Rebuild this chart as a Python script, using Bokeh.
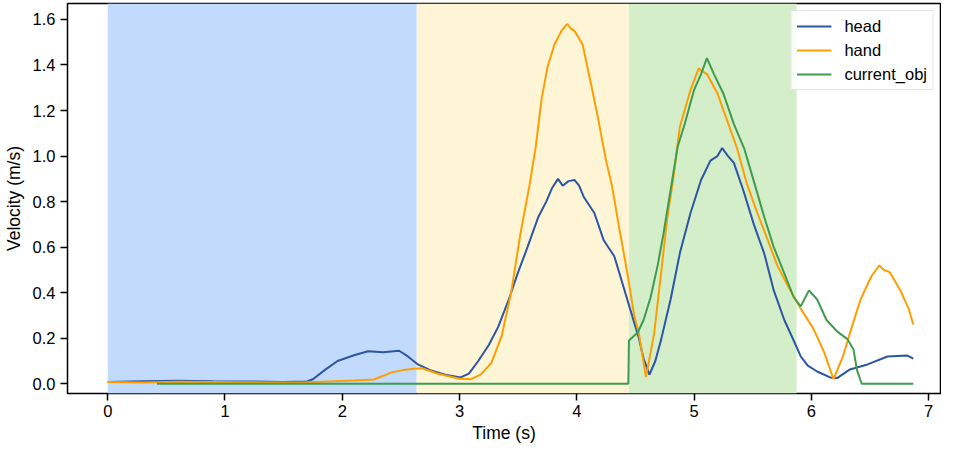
from bokeh.plotting import figure
from bokeh.models import Range1d, BoxAnnotation, FixedTicker, NumeralTickFormatter, Legend
from bokeh.embed import file_html
from bokeh.resources import INLINE

# ---- data ----
phase_bounds = [0.0, 2.635, 4.445, 5.875]
phase_colors = ["#c2dafb", "#fdf5d6", "#d4eec9"]

head_t = [0.0, 0.3, 0.6, 0.9, 1.2, 1.5, 1.7, 1.75, 1.85, 1.96, 2.1, 2.22, 2.35, 2.485, 2.56,
          2.645, 2.75, 2.88, 3.01, 3.08, 3.16, 3.25, 3.33, 3.42, 3.50, 3.58, 3.67, 3.74, 3.79,
          3.84, 3.88, 3.93, 3.98, 4.02, 4.06, 4.15, 4.23, 4.32, 4.39, 4.46, 4.53, 4.57, 4.62,
          4.67, 4.72, 4.80, 4.88, 4.97, 5.06, 5.14, 5.20, 5.24, 5.29, 5.34, 5.42, 5.51, 5.60,
          5.68, 5.77, 5.85, 5.91, 5.97, 6.05, 6.16, 6.22, 6.33, 6.48, 6.65, 6.82, 6.87]
head_v = [0.008, 0.011, 0.013, 0.011, 0.010, 0.008, 0.010, 0.02, 0.06, 0.10, 0.125, 0.143, 0.138,
          0.145, 0.12, 0.085, 0.06, 0.04, 0.028, 0.045, 0.10, 0.17, 0.25, 0.37, 0.49, 0.60, 0.73,
          0.80, 0.86, 0.90, 0.87, 0.89, 0.895, 0.87, 0.82, 0.75, 0.63, 0.56, 0.44, 0.32, 0.20,
          0.11, 0.04, 0.10, 0.195, 0.37, 0.575, 0.75, 0.895, 0.98, 1.00, 1.035, 1.00, 0.97, 0.85,
          0.70, 0.57, 0.41, 0.28, 0.19, 0.12, 0.08, 0.054, 0.028, 0.025, 0.063, 0.085, 0.12, 0.124,
          0.11]

hand_t = [0.0, 0.3, 0.6, 0.9, 1.2, 1.5, 1.7, 1.88, 2.1, 2.27, 2.35, 2.42, 2.52, 2.61, 2.68, 2.81,
          2.99, 3.10, 3.18, 3.27, 3.36, 3.44, 3.52, 3.60, 3.65, 3.70, 3.75, 3.81, 3.87, 3.90, 3.92,
          3.95, 3.98, 4.05, 4.12, 4.18, 4.25, 4.30, 4.36, 4.43, 4.49, 4.53, 4.59, 4.66, 4.72, 4.77,
          4.82, 4.88, 4.97, 5.04, 5.08, 5.11, 5.20, 5.28, 5.37, 5.45, 5.54, 5.63, 5.71, 5.80,
          5.91, 6.02, 6.11, 6.19, 6.27, 6.34, 6.42, 6.51, 6.58, 6.62, 6.67, 6.76, 6.83, 6.87]
hand_v = [0.008, 0.006, 0.009, 0.008, 0.007, 0.006, 0.007, 0.010, 0.014, 0.019, 0.035, 0.05, 0.06,
          0.066, 0.068, 0.045, 0.023, 0.02, 0.04, 0.09, 0.21, 0.40, 0.66, 0.88, 1.04, 1.25, 1.39,
          1.49, 1.55, 1.57, 1.58, 1.56, 1.55, 1.49, 1.32, 1.17, 0.98, 0.87, 0.69, 0.49, 0.30, 0.22,
          0.03, 0.22, 0.49, 0.72, 0.89, 1.13, 1.29, 1.385, 1.37, 1.36, 1.275, 1.16, 1.03, 0.88,
          0.75, 0.63, 0.52, 0.43, 0.33, 0.24, 0.138, 0.02, 0.12, 0.24, 0.37, 0.47, 0.52, 0.50,
          0.49, 0.41, 0.33, 0.26]

obj_t = [0.42, 4.44, 4.445, 4.52, 4.57, 4.63, 4.69, 4.74, 4.80, 4.86, 4.92, 5.00, 5.06, 5.11, 5.17,
         5.25, 5.34, 5.43, 5.51, 5.60, 5.68, 5.77, 5.85, 5.91, 5.95, 5.98, 6.05, 6.13, 6.22, 6.31,
         6.36, 6.39, 6.43, 6.87]
obj_v = [0.0, 0.0, 0.19, 0.225, 0.28, 0.38, 0.52, 0.66, 0.85, 1.04, 1.14, 1.29, 1.36, 1.43, 1.36,
         1.275, 1.14, 1.03, 0.89, 0.73, 0.60, 0.485, 0.38, 0.34, 0.38, 0.41, 0.37, 0.28, 0.23, 0.195,
         0.15, 0.06, 0.0, 0.0]

x_ticks = [0, 1, 2, 3, 4, 5, 6, 7]
y_ticks = [0.0, 0.2, 0.4, 0.6, 0.8, 1.0, 1.2, 1.4, 1.6]

FONT = "Liberation Sans"

p = figure(width=941, height=445, output_backend="svg", toolbar_location=None,
           x_range=Range1d(-0.343, 7.102), y_range=Range1d(-0.0427, 1.670),
           min_border_left=66, min_border_right=1, min_border_top=3, min_border_bottom=51)

p.background_fill_color = "white"
p.outline_line_color = "black"
p.outline_line_width = 1.5
p.grid.visible = False

for i, c in enumerate(phase_colors):
    p.add_layout(BoxAnnotation(left=phase_bounds[i], right=phase_bounds[i + 1],
                               fill_color=c, fill_alpha=1.0, line_color=None, level="underlay"))

r_head = p.line(head_t, head_v, line_color="#2c55a5", line_width=2)
r_hand = p.line(hand_t, hand_v, line_color="#ff9e00", line_width=2)
r_obj = p.line(obj_t, obj_v, line_color="#3f9c4f", line_width=2)

legend = Legend(items=[("head", [r_head]), ("hand", [r_hand]), ("current_obj", [r_obj])],
                location="top_right")
legend.margin = 7
legend.padding = 5
legend.spacing = 4
legend.glyph_width = 35
legend.glyph_height = 20
legend.label_height = 20
legend.label_standoff = 13
legend.label_text_font = FONT
legend.label_text_font_size = "16.5px"
legend.label_text_color = "black"
legend.border_line_color = "#cccccc"
legend.border_line_width = 1
legend.background_fill_alpha = 0.85
p.add_layout(legend)

p.xaxis.ticker = FixedTicker(ticks=x_ticks)
p.yaxis.ticker = FixedTicker(ticks=y_ticks)
p.yaxis.formatter = NumeralTickFormatter(format="0.0")

for ax in (p.xaxis, p.yaxis):
    ax.axis_line_color = None
    ax.major_tick_line_color = "black"
    ax.major_tick_line_width = 1.5
    ax.major_tick_out = 7
    ax.major_tick_in = 0
    ax.minor_tick_line_color = None
    ax.major_label_text_font = FONT
    ax.major_label_text_font_size = "16.5px"
    ax.major_label_text_color = "black"
    ax.axis_label_text_font = FONT
    ax.axis_label_text_font_size = "17.5px"
    ax.axis_label_text_font_style = "normal"
    ax.axis_label_text_color = "black"

p.xaxis.axis_label = "Time (s)"
p.yaxis.axis_label = "Velocity (m/s)"
p.xaxis.major_label_standoff = 4
p.yaxis.major_label_standoff = 5
p.xaxis.axis_label_standoff = 3
p.yaxis.axis_label_standoff = 6

open("out.html", "w").write(file_html(p, INLINE))
